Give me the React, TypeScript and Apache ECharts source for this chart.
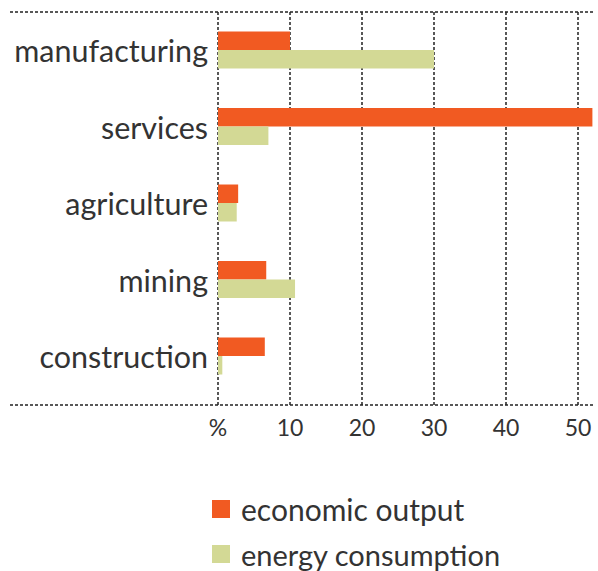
import React, { useEffect, useRef } from "react";
import * as echarts from "echarts";

const categories = ["manufacturing", "services", "agriculture", "mining", "construction"];
const economicOutput = [10, 52, 2.8, 6.7, 6.5];
const energyConsumption = [30, 7, 2.6, 10.7, 0.6];
const tickLabels: Record<number, string> = { 0: "%", 10: "10", 20: "20", 30: "30", 40: "40", 50: "50" };
const seriesNames = ["economic output", "energy consumption"];

const FONT = "Lato";
const TEXT = "#333";
const ORANGE = "#F15A22";
const GREEN = "#D3D995";

export default function App() {
  const ref = useRef<HTMLDivElement>(null);
  useEffect(() => {
    if (!ref.current) return;
    const chart = echarts.init(ref.current, undefined, { renderer: "svg" });
    const left = 218;
    const right = 5.6;
    const legendBase = {
      orient: "horizontal",
      left: 212,
      padding: 0,
      itemWidth: 18,
      itemHeight: 18,
      icon: "rect",
      textStyle: { fontFamily: FONT, fontSize: 30, lineHeight: 30, color: TEXT, padding: [0, 0, 0, 6] },
    };
    chart.setOption({
      animation: false,
      backgroundColor: "#fff",
      grid: [
        { left, right, top: 11.75, bottom: 176.75, containLabel: false },
        { left, right, top: 12, bottom: 166, containLabel: false },
      ],
      xAxis: [
        { type: "value", gridIndex: 0, min: 0, max: 52, interval: 10, show: false },
        {
          type: "value",
          gridIndex: 1,
          min: 0,
          max: 52,
          interval: 10,
          axisLine: { show: false },
          axisTick: { show: false },
          splitLine: {
            show: true,
            showMaxLine: false,
            lineStyle: { color: "#222", type: [3, 2], width: 1.5 },
          },
          axisLabel: {
            showMaxLabel: false,
            margin: 10,
            fontFamily: FONT,
            fontSize: 23,
            color: TEXT,
            formatter: (v: number) => tickLabels[v] ?? "",
          },
        },
      ],
      yAxis: [
        {
          type: "category",
          gridIndex: 0,
          data: categories,
          inverse: true,
          axisLine: { show: false },
          axisTick: { show: false },
          splitLine: { show: false },
          axisLabel: { margin: 10, fontFamily: FONT, fontSize: 30.5, color: TEXT },
        },
        { type: "value", gridIndex: 1, show: false, min: 0, max: 1 },
      ],
      legend: [
        { ...legendBase, top: 494, data: [seriesNames[0]] },
        { ...legendBase, top: 539, textStyle: { ...legendBase.textStyle, fontSize: 29 }, data: [seriesNames[1]] },
      ],
      graphic: [
        { type: "line", shape: { x1: 10, y1: 12, x2: 595, y2: 12 }, style: { stroke: "#222", lineWidth: 1.5, lineDash: [3, 2] }, z: 10 },
        { type: "line", shape: { x1: 10, y1: 405, x2: 595, y2: 405 }, style: { stroke: "#222", lineWidth: 1.5, lineDash: [3, 2] }, z: 10 },
      ],
      series: [
        {
          name: seriesNames[0],
          type: "bar",
          xAxisIndex: 0,
          yAxisIndex: 0,
          data: economicOutput,
          barWidth: 18.5,
          barGap: "0%",
          itemStyle: { color: ORANGE },
        },
        {
          name: seriesNames[1],
          type: "bar",
          xAxisIndex: 0,
          yAxisIndex: 0,
          data: energyConsumption,
          barWidth: 18.5,
          barGap: "0%",
          itemStyle: { color: GREEN },
        },
      ],
    });
    return () => chart.dispose();
  }, []);
  return <div ref={ref} style={{ width: 598, height: 571, position: "fixed", left: 0, top: 0 }} />;
}
